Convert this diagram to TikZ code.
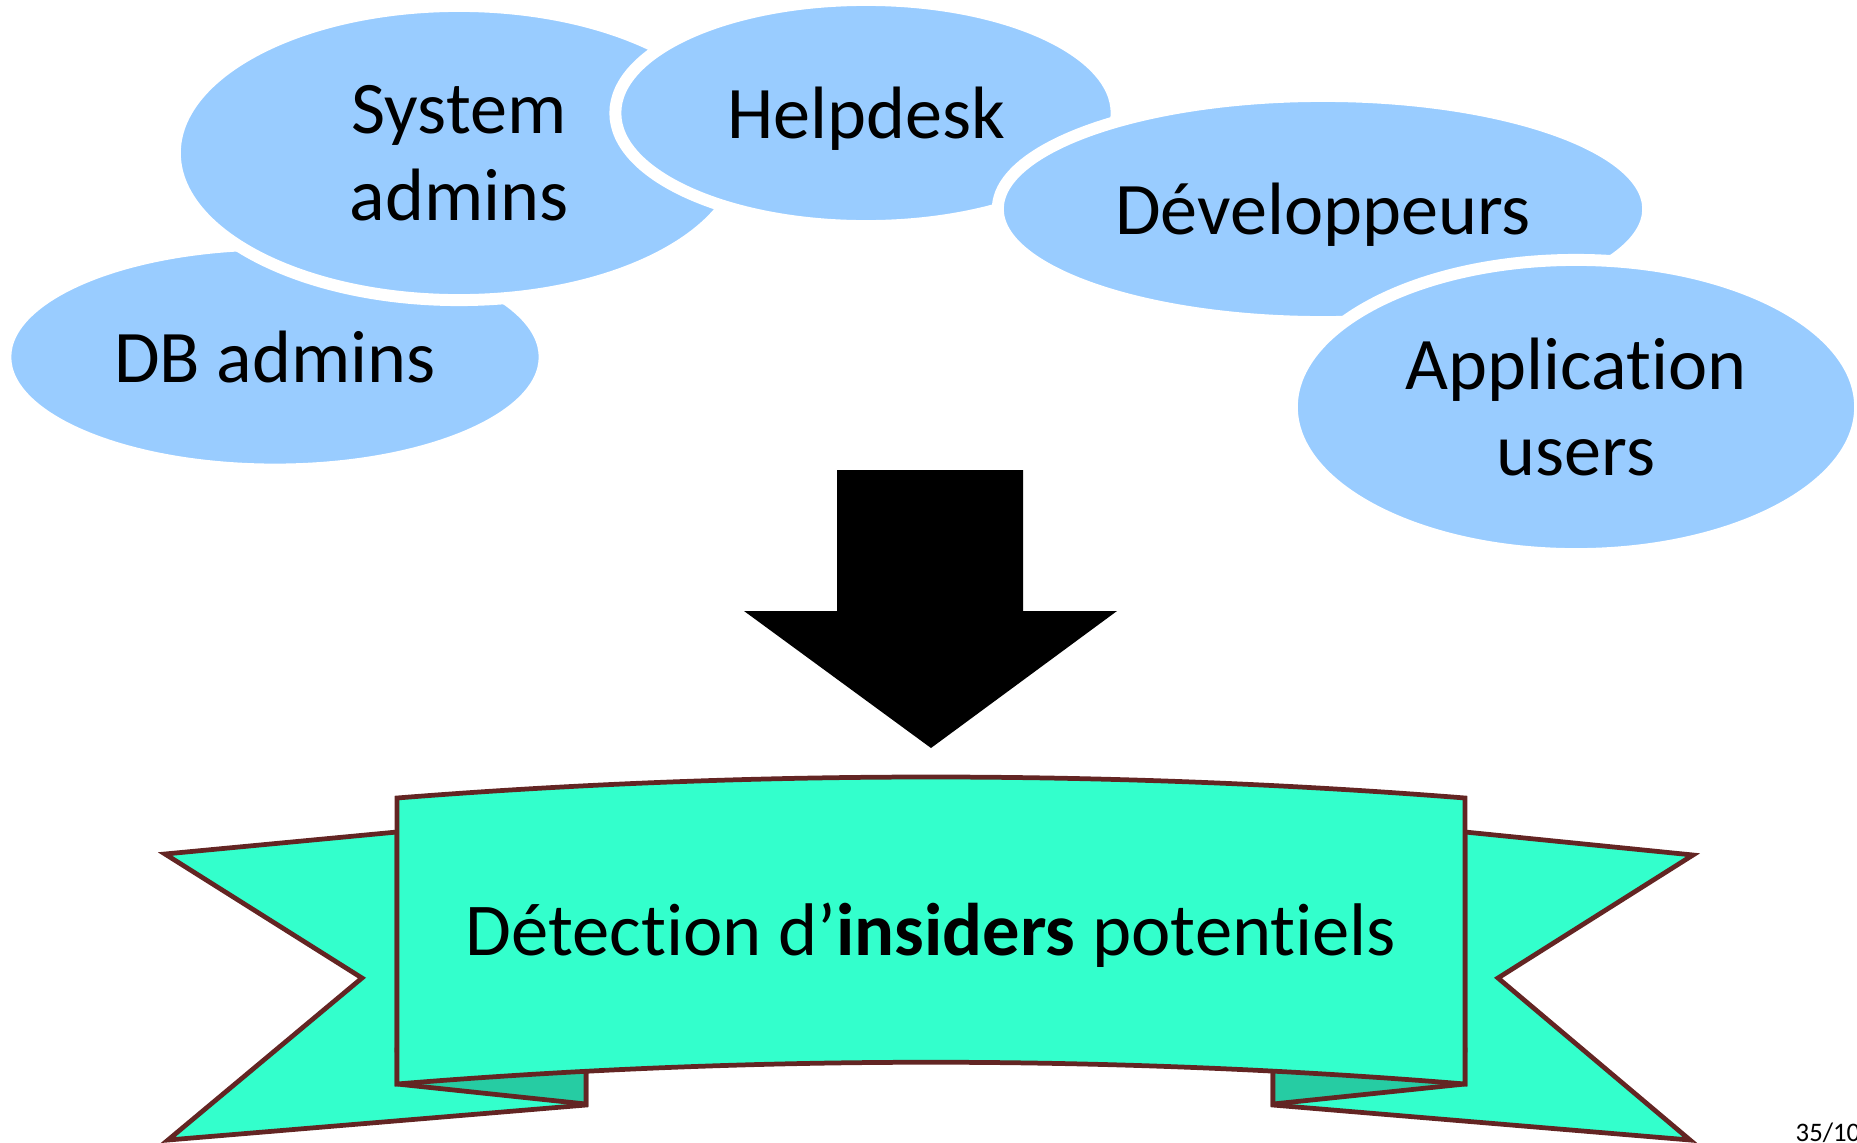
\documentclass[tikz,border=0pt]{standalone}
\usepackage{fontspec}
\setmainfont{Carlito}[Ligatures=NoCommon]
\usetikzlibrary{shapes.geometric}

\definecolor{teamblue}{HTML}{99CCFF}
\definecolor{ribbongreen}{HTML}{33FFCC}
\definecolor{folddark}{HTML}{26CCA3}
\definecolor{ribbonline}{HTML}{632523}

\begin{document}
\begin{tikzpicture}[x=0.01cm, y=-0.01cm]

        \tikzstyle{team} = [ellipse, fill=teamblue, draw=white, line width=3.4pt, inner sep=0pt, text centered, align=center, font=\fontsize{21.1}{24.6}\selectfont]
        \tikzstyle{ribbon} = [fill=ribbongreen, draw=ribbonline, line width=1.35pt, line join=miter]
        \tikzstyle{fold} = [fill=folddark, draw=ribbonline, line width=1.35pt]
        \tikzstyle{bigarrow} = [fill=black]

        \useasboundingbox (0,0) rectangle (1857,1142);

        % the groups, back to front
        \node (db) [team, minimum width=5.39cm, minimum height=2.25cm] at (275,357) {DB admins};
        \node (sys) [team, minimum width=5.68cm, minimum height=2.94cm] at (459,153) {System\\admins};
        \node (help) [team, text depth=0pt, minimum width=5.01cm, minimum height=2.26cm] at (866,113) {Helpdesk};
        \node (dev) [team, text depth=0pt, minimum width=6.50cm, minimum height=2.26cm] at (1323,209) {Développeurs};
        \node (app) [team, minimum width=5.68cm, minimum height=2.94cm] at (1576,407) {Application\\users};

        % block arrow
        \fill [bigarrow] (837,470) -- (1023,470) -- (1023,611) -- (1117,611) -- (931,748) -- (744,611) -- (837,611) -- cycle;

        % ribbon tails
        \draw [ribbon] (397,832) -- (165,854) -- (362,978) -- (168,1140) -- (586,1105) -- (586,1050) -- (397,1050) -- cycle;
        \draw [ribbon] (1465,832) -- (1693,855) -- (1498,978) -- (1690,1140) -- (1273,1105) -- (1273,1050) -- (1465,1050) -- cycle;
        \draw [fold] (397,1084) -- (586,1104) -- (586,1050) -- (397,1050) -- cycle;
        \draw [fold] (1465,1084) -- (1273,1104) -- (1273,1050) -- (1465,1050) -- cycle;
        % front of the ribbon
        \draw [ribbon] (397,798) .. controls (750,770) and (1112,770) .. (1465,798) -- (1465,1084) .. controls (1112,1055) and (750,1055) .. (397,1084) -- cycle;
        \node (goal) [font=\fontsize{21.2}{24}\selectfont] at (931,935) {Détection d’\textbf{insiders} potentiels};

        \node (pagenum) [anchor=base west, inner sep=0pt, font=\fontsize{7.6}{9}\selectfont] at (1795,1141) {35/10};
    \end{tikzpicture}
\end{document}
